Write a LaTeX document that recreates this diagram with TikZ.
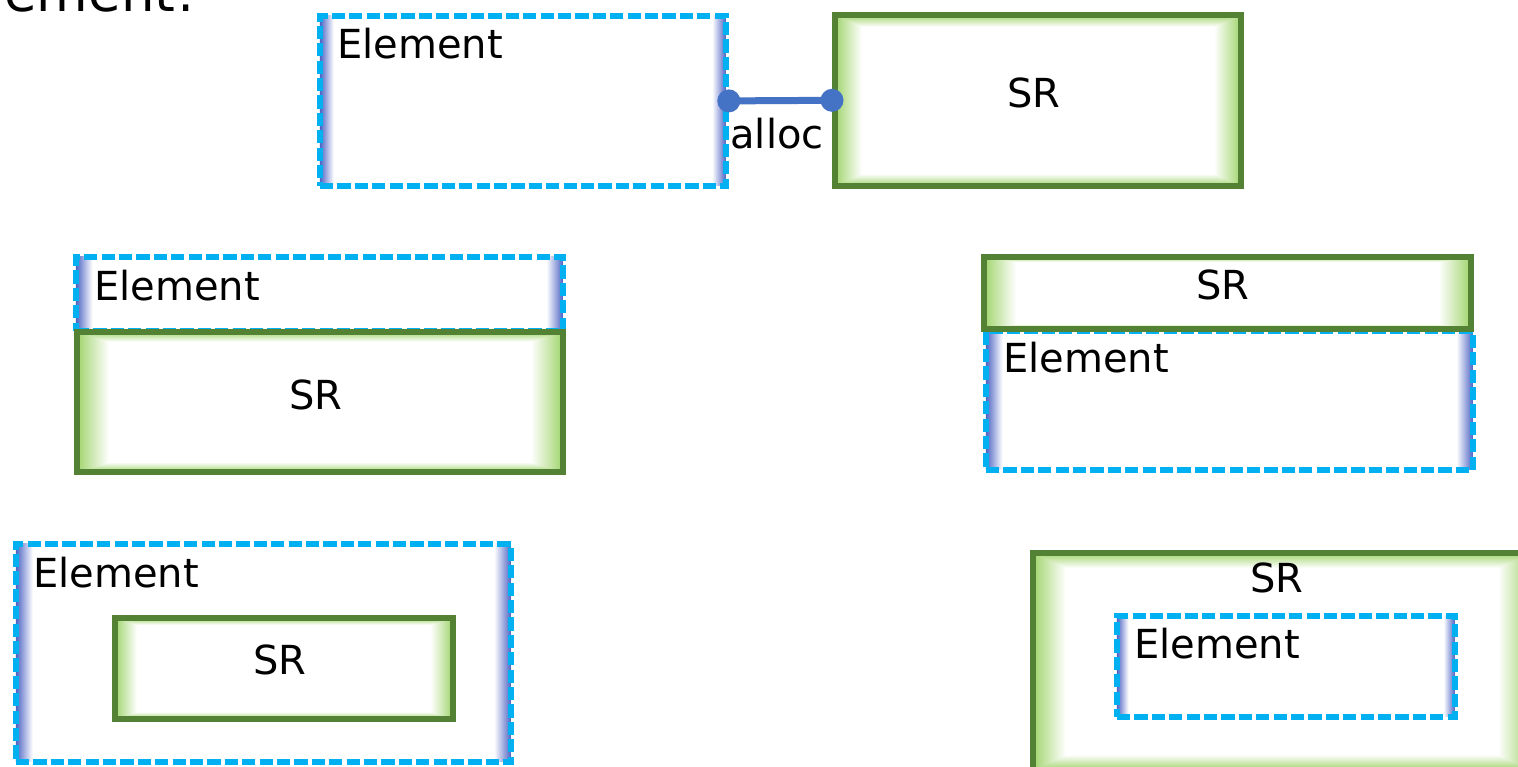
\documentclass[tikz,border=0pt]{standalone}
\usepackage{fontspec}
\setmainfont{DejaVu Sans}

\definecolor{elcyan}{HTML}{00B0F0}
\definecolor{elshade}{RGB}{78,100,196}
\definecolor{srgreen}{HTML}{548235}
\definecolor{srshade}{RGB}{160,212,108}
\definecolor{conncol}{HTML}{4472C4}

% edge fades: the shaded path is mapped onto the 25bp..75bp band
\pgfdeclarehorizontalshading{elfade}{100bp}{color(0bp)=(elshade); color(25bp)=(elshade);
  color(26.7bp)=(white); color(73.3bp)=(white); color(75bp)=(elshade); color(100bp)=(elshade)}
\pgfdeclarehorizontalshading{srfadeh}{100bp}{color(0bp)=(srshade); color(25bp)=(srshade);
  color(28.3bp)=(white); color(71.7bp)=(white); color(75bp)=(srshade); color(100bp)=(srshade)}
\pgfdeclareverticalshading{srfadev}{100bp}{color(0bp)=(srshade); color(25bp)=(srshade);
  color(28.5bp)=(white); color(71.5bp)=(white); color(75bp)=(srshade); color(100bp)=(srshade)}

\tikzset{
  lbl/.style={inner sep=0pt, font=\fontsize{20}{24}\selectfont},
  % dashed element frame, bluish fade at the left and right edges
  elembox/.style={rectangle, inner sep=0pt, draw=elcyan, line width=2.9pt,
    dash pattern=on 6.6pt off 2.1pt, shade, shading=elfade},
  % solid green frame, green fade on all four edges
  srbox/.style={rectangle, inner sep=0pt, draw=srgreen, line width=2.8pt,
    shade, shading=srfadeh,
    path picture={
      \shade[shading=srfadev, blend mode=darken]
        (path picture bounding box.south west) rectangle (path picture bounding box.north east);
    }},
  conn/.style={draw=conncol, line width=3.5pt},
  conndot/.style={circle, fill=conncol, inner sep=0pt, minimum size=11.5pt}
}

\begin{document}
\begin{tikzpicture}[x=0.5pt, y=-0.5pt]
  \useasboundingbox (0,0) rectangle (1518,766);
  \clip (0,0) rectangle (1518,766);

  % heading text running off the top edge
  \node[inner sep=0pt, anchor=base west, font=\fontsize{26.5}{30}\selectfont] (head) at (4,11) {ement!};

  % pair joined by an allocation link
  \node[elembox, anchor=north west, minimum width=203pt, minimum height=85pt] (e1) at (317,13) {};
  \node[lbl, anchor=base west] (e1t) at (337,58) {Element};
  \node[srbox, anchor=north west, minimum width=203pt, minimum height=85.5pt] (s1) at (832,12) {};
  \node[lbl] (s1t) at (1034,93) {SR};
  \draw[conn] (e1.east) -- (s1.west);
  \node[conndot] (d1) at (e1.east) {};
  \node[conndot] (d2) at (s1.west) {};
  \node[lbl, anchor=base] (alloc) at (777,148) {alloc};

  % element stacked above SR
  \node[elembox, anchor=north west, minimum width=243.5pt, minimum height=37pt] (e2) at (73,254) {};
  \node[lbl, anchor=base west] (e2t) at (94,300) {Element};
  \node[srbox, anchor=north west, minimum width=243pt, minimum height=70pt] (s2) at (74,329) {};
  \node[lbl] (s2t) at (316,395) {SR};

  % SR stacked above element
  \node[elembox, anchor=north west, minimum width=243.5pt, minimum height=69.5pt] (e3) at (983,328) {};
  \node[lbl, anchor=base west] (e3t) at (1003,372) {Element};
  \node[srbox, anchor=north west, minimum width=243.5pt, minimum height=36pt] (s3) at (981,254) {};
  \node[lbl] (s3t) at (1223,285) {SR};

  % SR nested inside element
  \node[elembox, anchor=north west, minimum width=247.5pt, minimum height=109pt] (e4) at (13,541) {};
  \node[lbl, anchor=base west] (e4t) at (33,587) {Element};
  \node[srbox, anchor=north west, minimum width=169pt, minimum height=50.5pt] (s4) at (112,615) {};
  \node[lbl] (s4t) at (280,660) {SR};

  % element nested inside SR
  \node[srbox, anchor=north west, minimum width=249pt, minimum height=108.5pt] (s5) at (1030,550) {};
  \node[lbl] (s5t) at (1277,578) {SR};
  \node[elembox, anchor=north west, minimum width=169pt, minimum height=50.5pt] (e5) at (1114,613) {};
  \node[lbl, anchor=base west] (e5t) at (1134,658) {Element};
\end{tikzpicture}
\end{document}
